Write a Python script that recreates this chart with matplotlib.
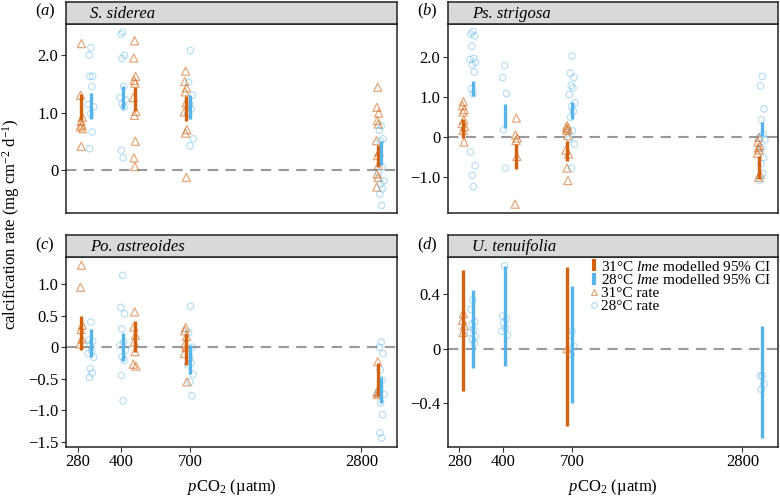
import numpy as np
import matplotlib
matplotlib.use("Agg")
import matplotlib.pyplot as plt
from matplotlib.lines import Line2D

plt.rcParams['font.family'] = ['Liberation Serif', 'DejaVu Serif']
plt.rcParams['mathtext.fontset'] = 'custom'
plt.rcParams['mathtext.rm'] = 'Liberation Serif'
plt.rcParams['mathtext.it'] = 'Liberation Serif:italic'

# pCO2 treatment levels and where each temperature group sits on the x axis
PCO2_TICKS = [280, 400, 700, 2800]
X_31 = [289, 445, 673, 3200]
X_28 = [312, 404, 700, 3290]

# S. siderea
SID_31 = [[2.2, 1.3, 0.92, 0.85, 0.78, 0.75, 0.72, 0.41],
          [2.25, 1.95, 1.63, 1.56, 1.51, 1.26, 1.02, 0.95, 0.5, 0.21, 0.06],
          [1.72, 1.54, 1.43, 1.36, 1.17, 1.01, 0.70, 0.64, -0.13],
          [1.44, 1.09, 0.99, 0.86, 0.80, 0.51, 0.31, 0.25, 0.08, -0.07, -0.13, -0.30]]
SID_28 = [[2.13, 2.0, 1.63, 1.63, 1.45, 1.14, 1.1, 0.98, 0.66, 0.37],
          [2.40, 2.36, 2.0, 1.94, 1.45, 1.26, 1.22, 1.15, 1.09, 0.34, 0.21],
          [2.08, 1.53, 1.30, 1.15, 1.06, 0.98, 0.54, 0.42],
          [0.77, 0.69, 0.54, 0.50, 0.05, -0.05, -0.19, -0.24, -0.33, -0.42, -0.62]]
SID_CI31 = [(0.87, 1.33), (1.02, 1.45), (0.86, 1.28), (0.05, 0.44)]
SID_CI28 = [(0.89, 1.34), (1.06, 1.47), (0.89, 1.30), (0.08, 0.50)]

# Ps. strigosa
STR_31 = [[0.88, 0.78, 0.68, 0.62, 0.42, 0.33, 0.26, 0.16, -0.13],
          [0.47, 0.05, -0.03, -0.09, -0.49, -1.68],
          [0.28, 0.23, 0.2, 0.16, 0.03, -0.33, -0.43, -0.78, -1.09],
          [-0.01, -0.13, -0.22, -0.27, -0.33, -0.41, -0.93, -1.01]]
STR_28 = [[2.63, 2.57, 2.52, 2.26, 1.96, 1.93, 1.86, 1.80, 1.62, 1.2, 1.08,
           -0.38, -0.72, -0.96, -1.24],
          [1.78, 1.48, 1.08, 0.18, -0.78],
          [2.02, 1.59, 1.48, 1.28, 1.22, 1.06, 0.85, 0.76, 0.64, 0.49, 0.15,
           -0.05, -0.18, -0.78],
          [1.51, 1.27, 0.70, 0.43, 0.07, -0.03, -0.07, -0.27, -0.52, -0.66,
           -0.91, -1.09]]
STR_CI31 = [(-0.03, 0.44), (-0.80, -0.19), (-0.61, -0.11), (-1.05, -0.47)]
STR_CI28 = [(1.01, 1.39), (0.23, 0.83), (0.45, 0.87), (0.01, 0.37)]

# Po. astreoides
AST_31 = [[1.3, 0.95, 0.35, 0.28, 0.13, 0.05],
          [0.56, 0.32, 0.19, 0.08, -0.07, -0.27, -0.30],
          [0.31, 0.26, 0.17, 0.05, 0.0, -0.1, -0.55],
          [-0.23, -0.71, -0.73, -0.75]]
AST_28 = [[0.40, 0.11, 0.09, 0.03, -0.06, -0.10, -0.16, -0.34, -0.41, -0.48],
          [1.14, 0.63, 0.53, 0.29, 0.08, 0.03, -0.05, -0.15, -0.21, -0.45, -0.85],
          [0.65, 0.23, 0.0, -0.16, -0.25, -0.28, -0.43, -0.55, -0.77],
          [0.08, 0.0, -0.1, -0.36, -0.52, -0.73, -0.75, -0.88, -1.07, -1.36, -1.44]]
AST_CI31 = [(-0.04, 0.49), (-0.07, 0.42), (-0.28, 0.21), (-0.77, -0.25)]
AST_CI28 = [(-0.15, 0.29), (-0.22, 0.23), (-0.43, 0.03), (-0.89, -0.47)]

# U. tenuifolia (no 31C data at 400 and 2800)
TEN_31 = [[0.26, 0.21, 0.17, 0.12], [], [0.0], []]
TEN_28 = [[0.36, 0.29, 0.2, 0.18, 0.14, 0.12, 0.09, 0.07, 0.04],
          [0.61, 0.24, 0.22, 0.19, 0.15, 0.13, 0.10],
          [0.13, 0.1, 0.02, -0.04],
          [-0.20, -0.20, -0.26, -0.30]]
TEN_CI31 = [(-0.31, 0.58), None, (-0.57, 0.60), None]
TEN_CI28 = [(-0.14, 0.43), (-0.125, 0.61), (-0.40, 0.46), (-0.66, 0.17)]

SPECIES = ["S. siderea", "Ps. strigosa", "Po. astreoides", "U. tenuifolia"]
PANEL_TAGS = ["a", "b", "c", "d"]

ORANGE = "#D2620F"
BLUE = "#56B4E9"
JITTER = [0.0, -0.6, 0.6, -0.3, 0.3, -0.9, 0.9, -0.15, 0.45, -0.45, 0.15,
          -0.75, 0.75, -0.2, 0.2]

W, H = 780, 499
fig = plt.figure(figsize=(7.8, 4.99), dpi=100)


def px_axes(left, top, width, height):
    return fig.add_axes([left / W, (H - top - height) / H, width / W, height / H])


def jittered(x0, n, spread):
    return [x0 * np.exp(JITTER[i % len(JITTER)] * spread) for i in range(n)]


def draw_panel(ax, rates31, rates28, ci31, ci28):
    ax.axhline(0, color="#999999", lw=1.5, ls=(0, (5, 3.5)), zorder=1)
    for i in range(4):
        r = rates31[i]
        if r:
            ax.scatter(jittered(X_31[i], len(r), 0.012), r, marker="^", s=34,
                       facecolors="none", edgecolors=ORANGE, linewidths=0.9,
                       alpha=0.55, zorder=2)
        r = rates28[i]
        if r:
            ax.scatter(jittered(X_28[i], len(r), 0.025), r, marker="o", s=22,
                       facecolors="none", edgecolors=BLUE, linewidths=0.8,
                       alpha=0.45, zorder=2)
    for i in range(4):
        if ci31[i] is not None:
            ax.vlines(X_31[i], ci31[i][0], ci31[i][1], color=ORANGE, lw=2.4,
                      zorder=3)
    for i in range(4):
        if ci28[i] is not None:
            ax.vlines(X_28[i], ci28[i][0], ci28[i][1], color=BLUE, lw=2.4,
                      zorder=3)


panels = [
    (SID_31, SID_28, SID_CI31, SID_CI28, (-0.75, 2.55), [0, 1, 2], ["0", "1.0", "2.0"]),
    (STR_31, STR_28, STR_CI31, STR_CI28, (-1.9, 2.83), [-1, 0, 1, 2],
     ["\u22121.0", "0", "1.0", "2.0"]),
    (AST_31, AST_28, AST_CI31, AST_CI28, (-1.575, 1.43),
     [-1.5, -1.0, -0.5, 0, 0.5, 1.0],
     ["\u22121.5", "\u22121.0", "\u22120.5", "0", "0.5", "1.0"]),
    (TEN_31, TEN_28, TEN_CI31, TEN_CI28, (-0.72, 0.676), [-0.4, 0, 0.4],
     ["\u22120.4", "0", "0.4"]),
]

lefts = [66, 448, 66, 448]
widths = [331, 330, 331, 330]
tops = [23.5, 23.5, 257, 257]
axes = []
for k, (r31, r28, c31, c28, ylim, yt, ylab) in enumerate(panels):
    ax = px_axes(lefts[k], tops[k], widths[k], 189.5)
    draw_panel(ax, r31, r28, c31, c28)
    ax.set_xscale("log")
    ax.set_xlim(255, 3740)
    ax.set_ylim(*ylim)
    ax.set_yticks(yt, ylab)
    ax.xaxis.set_minor_locator(matplotlib.ticker.NullLocator())
    if k >= 2:
        ax.set_xticks(PCO2_TICKS, [str(v) for v in PCO2_TICKS])
        ax.set_xlabel("$p$CO$_2$ (\u00b5atm)", fontsize=12, labelpad=5)
    else:
        ax.set_xticks([])
    ax.tick_params(labelsize=12, length=3.5, width=0.8, color="#333333",
                   pad=2)
    for sp in ax.spines.values():
        sp.set_linewidth(1.1)
        sp.set_color("#222222")
    # facet strip
    st = px_axes(lefts[k], tops[k] - 22, widths[k], 22)
    st.set_facecolor("#d9d9d9")
    st.set_xticks([])
    st.set_yticks([])
    for sp in st.spines.values():
        sp.set_linewidth(1.1)
        sp.set_color("#222222")
    st.text(24 / widths[k], 0.45, SPECIES[k], style="italic", fontsize=12,
            va="center", ha="left", transform=st.transAxes)
    fig.text((lefts[k] - 21) / W, 1 - (tops[k] - 12) / H,
             "($" + PANEL_TAGS[k] + "$)", fontsize=12, ha="center", va="center")
    axes.append(ax)

fig.text(11 / W, 1 - 224 / H, "calcification rate (mg cm$^{-2}$ d$^{-1}$)",
         rotation=90, fontsize=12, ha="center", va="center")

handles = [
    Line2D([], [], color=ORANGE, marker="|", markersize=8, markeredgewidth=3,
           linestyle="None"),
    Line2D([], [], color=BLUE, marker="|", markersize=8, markeredgewidth=3,
           linestyle="None"),
    Line2D([], [], color=ORANGE, marker="^", markersize=5, markerfacecolor="none",
           markeredgewidth=0.8, alpha=0.6, linestyle="None"),
    Line2D([], [], color=BLUE, marker="o", markersize=4, markerfacecolor="none",
           markeredgewidth=0.8, alpha=0.5, linestyle="None"),
]
labels = ["31\u00b0C $lme$ modelled 95% CI", "28\u00b0C $lme$ modelled 95% CI",
          "31\u00b0C rate", "28\u00b0C rate"]
axes[3].legend(handles, labels, loc="upper left", bbox_to_anchor=(0.43, 0.985),
               frameon=False, fontsize=11, handlelength=0.5, handletextpad=0.25,
               labelspacing=-0.05, borderpad=0, borderaxespad=0)

fig.savefig("out.png", dpi=100)
